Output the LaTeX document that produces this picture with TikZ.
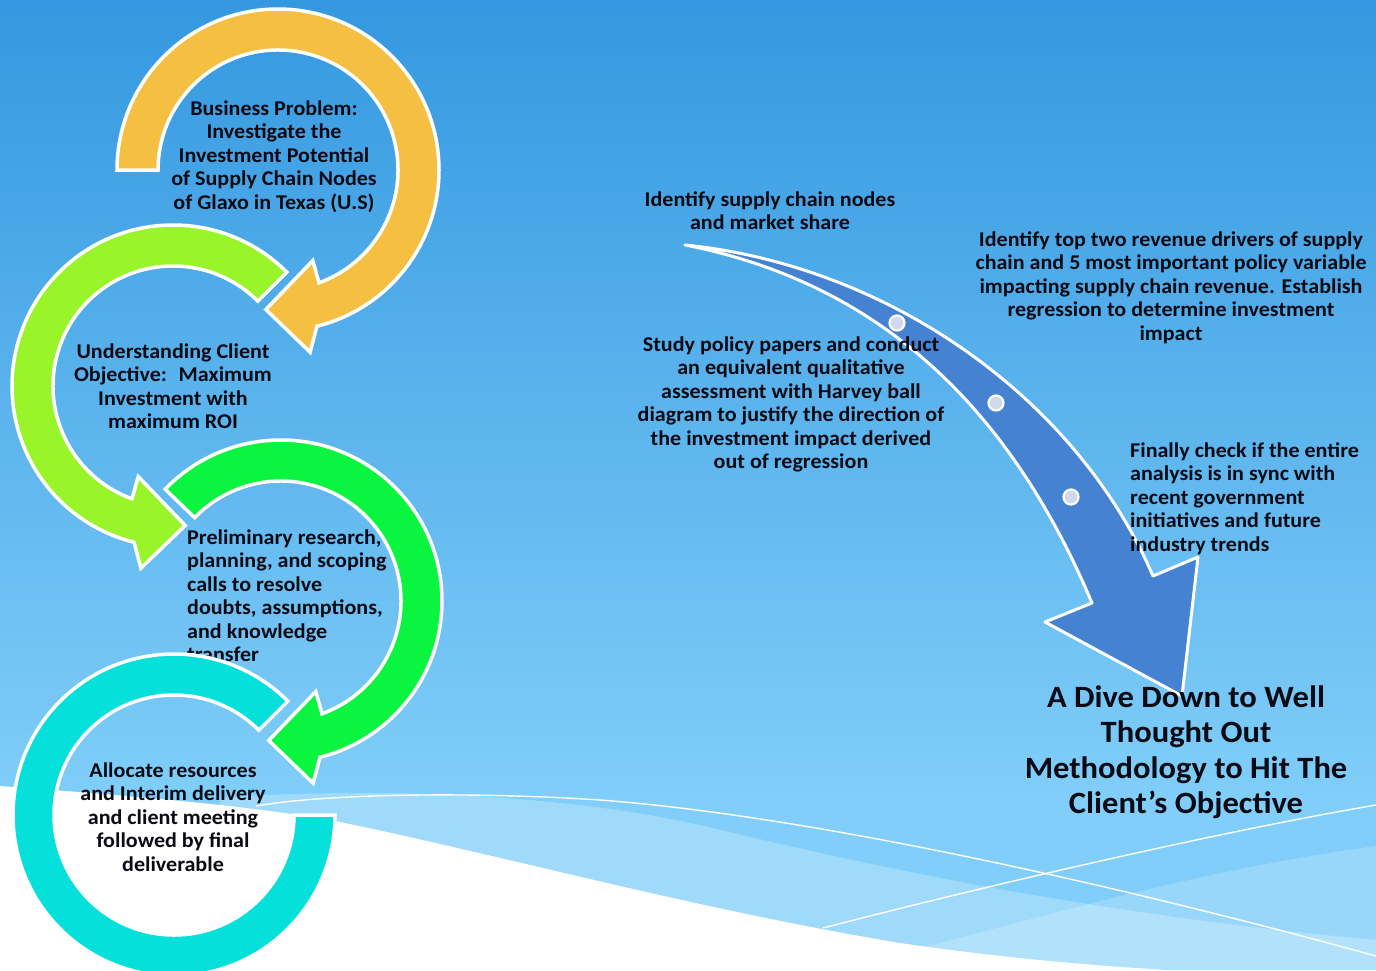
\documentclass[tikz,border=0pt]{standalone}
\usepackage{fontspec}
\setmainfont{Carlito}[FakeStretch=1.05]
\definecolor{bgtop}{RGB}{52,152,224}
\definecolor{bgbot}{RGB}{128,206,249}
\definecolor{ringA}{RGB}{245,191,66}
\definecolor{ringB}{RGB}{153,245,42}
\definecolor{ringC}{RGB}{10,245,64}
\definecolor{ringD}{RGB}{5,224,218}
\definecolor{bigarrow}{RGB}{69,131,210}
\definecolor{dotfill}{RGB}{208,216,240}
\definecolor{txt}{RGB}{10,10,20}
\newcommand\fs{\rule{0pt}{17pt}}
\newcommand\ts{\rule{0pt}{25pt}}
\newcommand\ringarrow[5]{%
  \begin{scope}[shift={#1}, xscale=#2]
    \pgfmathsetmacro\myaO{#4-19}\pgfmathsetmacro\mybO{#4-15}%
    \pgfmathsetmacro\mybI{#4-26}\pgfmathsetmacro\myaI{#4-25}%
    \draw[ring, fill=#5] (#3:161) arc[start angle=#3, end angle=\myaO, radius=161]
      -- (\mybO:185) -- (#4:140) -- (\mybI:97) -- (\myaI:120)
      arc[start angle=\myaI, end angle=#3, radius=120] -- cycle;
  \end{scope}}
\tikzset{
  ring/.style={draw=white, line width=3.5pt, line join=miter},
  body/.style={font=\fontsize{21}{23.5}\selectfont\bfseries, text=txt, inner sep=0pt, align=center, anchor=north},
  bodyl/.style={body, align=left, anchor=north west},
  titletext/.style={font=\fontsize{31}{35.5}\selectfont\bfseries, text=txt, inner sep=0pt, align=center, anchor=north},
  bigarr/.style={draw=white, line width=3pt, fill=bigarrow, line join=round},
  dotmark/.style={circle, minimum size=15pt, inner sep=0pt, fill=dotfill, draw=white, line width=2.2pt},
  wline/.style={draw=white, line width=1.4pt},
}
\begin{document}
\begin{tikzpicture}[x=1pt, y=-1pt]
\useasboundingbox (0,0) rectangle (1376,970);
\clip (0,0) rectangle (1376,970);
% background
\shade[top color=bgtop, bottom color=bgbot] (0,0) rectangle (1376,800);
\fill[bgbot] (0,799) rectangle (1376,970);
% waves
\fill[white, opacity=0.25] (220,798) .. controls (350,788) and (560,790) .. (721,830)
  .. controls (880,868) and (1100,915) .. (1376,940) -- (1376,970) -- (220,970) -- cycle;
\fill[white, opacity=0.2] (924,947) .. controls (1050,915) and (1200,870) .. (1376,846)
  -- (1376,970) -- (924,970) -- cycle;
\fill[white] (0,786) .. controls (120,795) and (250,805) .. (340,822)
  .. controls (500,855) and (700,910) .. (900,943)
  .. controls (1050,965) and (1180,972) .. (1300,976) -- (1300,990) -- (0,990) -- cycle;
\draw[wline] (256,806) .. controls (330,793) and (480,792) .. (600,800)
  .. controls (800,815) and (1100,880) .. (1376,956);
\draw[wline] (823,928) .. controls (950,895) and (1200,835) .. (1376,805);
% big arrow
\draw[bigarr] (685,245) .. controls (885,265) and (1075,395) .. (1153,576)
  -- (1198,557) -- (1182,696) -- (1045,622) -- (1092,603)
  .. controls (1015,420) and (890,285) .. (685,245) -- cycle;
\node[dotmark] (d1) at (897,323) {};
\node[dotmark] (d2) at (996,403) {};
\node[dotmark] (d3) at (1071,497) {};
% right texts
\node[body] (r1) at (770,189) {\fs Identify supply chain nodes\\and market share};
\node[body] (r2) at (1171,229) {\fs Identify top two revenue drivers of supply\\chain and 5 most important policy variable\\impacting supply chain revenue. Establish\\regression to determine investment\\impact};
\node[body] (r3) at (791,334) {\fs Study policy papers and conduct\\an equivalent qualitative\\assessment with Harvey ball\\diagram to justify the direction of\\the investment impact derived\\out of regression};
\node[bodyl] (r4) at (1130,440) {\fs Finally check if the entire\\analysis is in sync with\\recent government\\initiatives and future\\industry trends};
\node[titletext] (title) at (1186,682) {\ts A Dive Down to Well\\Thought Out\\Methodology to Hit The\\Client’s Objective};
% ring 1
\ringarrow{(278,170)}{1}{180}{455}{ringA}
\node[body] (t1) at (274,98) {\fs Business Problem:\\Investigate the\\Investment Potential\\of Supply Chain Nodes\\of Glaxo in Texas (U.S)};
% ring 2
\ringarrow{(173,386)}{-1}{225}{455}{ringB}
\node[body] (t2) at (173,341) {\fs Understanding Client\\Objective:~ Maximum\\Investment with\\maximum ROI};
% ring 3
\ringarrow{(281,601)}{1}{224}{455}{ringC}
\node[bodyl] (t3) at (187,527) {\fs Preliminary research,\\planning, and scoping\\calls to resolve\\doubts, assumptions,\\and knowledge\\transfer};
% ring 4
\begin{scope}[shift={(174,815)}]
  \draw[ring, fill=ringD] (315:161) arc[start angle=315, end angle=0, radius=161]
    -- (0:120) arc[start angle=0, end angle=315, radius=120] -- cycle;
\end{scope}
\node[body] (t4) at (173,760) {\fs Allocate resources\\and Interim delivery\\and client meeting\\followed by final\\deliverable};
\end{tikzpicture}
\end{document}
